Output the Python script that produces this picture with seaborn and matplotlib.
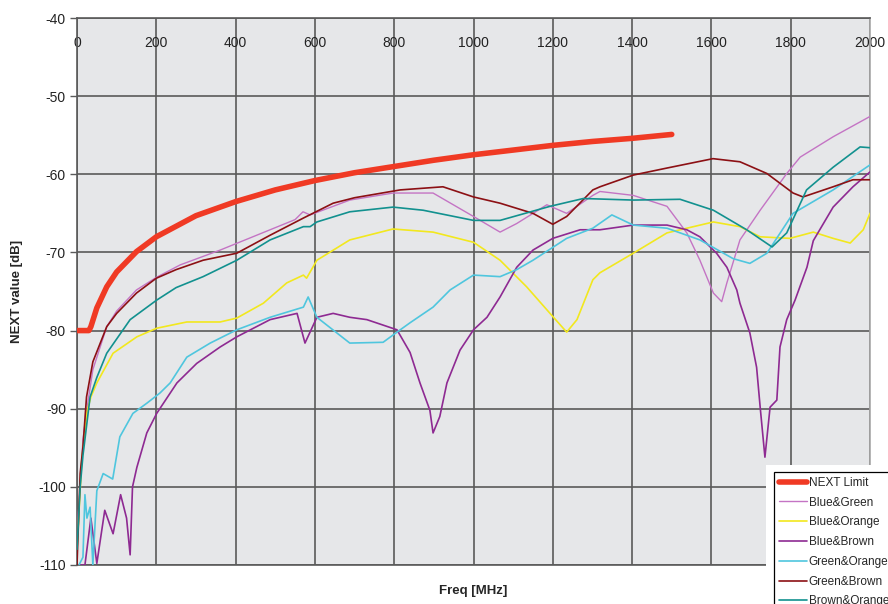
import matplotlib
matplotlib.use("Agg")
import matplotlib.pyplot as plt
import seaborn as sns
import pandas as pd
from matplotlib.patches import Rectangle

# ── Data ──────────────────────────────────────────────────────────────────────
limit_f  = [0, 30, 35, 50, 75, 100, 150, 200, 300, 400, 500, 600, 700, 800,
            900, 1000, 1100, 1200, 1300, 1400, 1500]
limit_db = [-80, -80, -79.5, -77.1, -74.4, -72.5, -69.9, -68.0, -65.3, -63.5,
            -62.0, -60.8, -59.8, -59.0, -58.2, -57.5, -56.9, -56.3, -55.8,
            -55.4, -54.9]

bgreen_f  = [0, 8, 15, 25, 40, 75, 100, 150, 200, 260, 361, 487, 550, 570, 588,
             688, 797, 865, 898, 1000, 1067, 1109, 1185, 1235, 1301, 1319, 1403,
             1488, 1538, 1571, 1605, 1626, 1639, 1672, 1723, 1790, 1824, 1907, 2000]
bgreen_db = [-106, -100, -94, -90, -85, -79.5, -77.5, -74.8, -73.2, -71.6, -69.7,
             -67.1, -65.8, -64.8, -65.2, -63.3, -62.4, -62.4, -62.4, -65.4, -67.4,
             -66.3, -63.9, -65.0, -62.7, -62.2, -62.7, -64.1, -67.5, -71.0, -75.2,
             -76.3, -73.9, -68.4, -64.6, -59.9, -57.8, -55.2, -52.6]

borange_f  = [0, 12, 25, 35, 50, 91, 151, 201, 277, 361, 403, 470, 529, 571, 579,
              605, 688, 797, 898, 1000, 1067, 1134, 1193, 1235, 1261, 1301, 1319,
              1403, 1488, 1605, 1672, 1723, 1798, 1857, 1907, 1950, 1983, 2000]
borange_db = [-108, -96.6, -90.4, -88.5, -86.7, -82.9, -80.8, -79.7, -78.9, -78.9,
              -78.4, -76.5, -73.9, -72.9, -73.3, -71.0, -68.4, -67.0, -67.4, -68.7,
              -71.0, -74.4, -77.8, -80.2, -78.6, -73.5, -72.6, -70.1, -67.5, -66.1,
              -66.7, -68.0, -68.2, -67.4, -68.2, -68.8, -67.1, -65.0]

bbrown_f  = [5, 20, 35, 50, 70, 91, 110, 125, 134, 140, 151, 176, 201, 235, 252,
             302, 361, 403, 487, 555, 575, 605, 646, 688, 731, 772, 807, 840, 865,
             890, 898, 915, 933, 966, 1000, 1034, 1067, 1109, 1150, 1200, 1269,
             1319, 1403, 1488, 1538, 1571, 1613, 1639, 1664, 1672, 1697, 1714,
             1723, 1735, 1748, 1765, 1773, 1790, 1811, 1841, 1857, 1907, 1957, 2000]
bbrown_db = [-110, -110, -104, -109.8, -103, -106, -101, -104, -108.7, -100, -97.5,
             -93.1, -90.6, -88.0, -86.7, -84.2, -82.1, -80.8, -78.6, -77.8, -81.6,
             -78.3, -77.8, -78.3, -78.6, -79.3, -79.9, -82.8, -86.7, -90.2, -93.1,
             -91.0, -86.7, -82.5, -79.9, -78.3, -75.7, -71.9, -69.7, -68.2, -67.1,
             -67.1, -66.5, -66.5, -67.1, -68.0, -70.1, -71.9, -74.8, -76.5, -80.3,
             -84.7, -89.8, -96.2, -89.8, -88.9, -82.1, -78.6, -76.1, -71.9, -68.5,
             -64.2, -61.6, -59.7]

gorange_f  = [5, 15, 20, 25, 33, 40, 50, 66, 90, 108, 141, 176, 209, 235, 277,
              336, 403, 487, 571, 583, 605, 688, 772, 807, 840, 898, 941, 1000,
              1067, 1109, 1150, 1235, 1301, 1349, 1403, 1488, 1571, 1655, 1697,
              1740, 1806, 1907, 2000]
gorange_db = [-110, -109, -101, -104, -102.6, -110, -100.5, -98.3, -99.0, -93.6,
              -90.6, -89.3, -88.0, -86.7, -83.4, -81.6, -79.9, -78.3, -77.0, -75.7,
              -78.3, -81.6, -81.5, -80.2, -79.0, -77.0, -74.8, -72.9, -73.1, -72.2,
              -71.0, -68.2, -66.9, -65.2, -66.5, -66.9, -68.4, -70.8, -71.4, -70.1,
              -65.0, -62.0, -58.8]

gbrown_f  = [0, 8, 15, 24, 40, 75, 100, 150, 200, 250, 318, 403, 487, 571, 646,
             700, 815, 923, 1000, 1067, 1150, 1200, 1235, 1301, 1319, 1403, 1488,
             1604, 1672, 1740, 1806, 1831, 1907, 1957, 2000]
gbrown_db = [-110, -98.3, -94.9, -88.5, -84.0, -79.5, -77.8, -75.2, -73.3, -72.2,
             -71.0, -70.1, -67.8, -65.6, -63.7, -63.0, -62.0, -61.6, -62.9, -63.7,
             -65.0, -66.4, -65.4, -62.0, -61.6, -60.1, -59.2, -58.0, -58.4, -59.9,
             -62.4, -62.9, -61.6, -60.7, -60.7]

brorange_f  = [0, 8, 15, 33, 50, 75, 134, 201, 250, 318, 403, 487, 571, 588, 605,
               688, 797, 873, 1000, 1067, 1193, 1277, 1403, 1521, 1605, 1689, 1753,
               1790, 1840, 1907, 1975, 2000]
brorange_db = [-108, -100, -96, -88.5, -86.0, -82.9, -78.6, -76.1, -74.5, -73.1,
               -71.0, -68.4, -66.7, -66.7, -66.1, -64.8, -64.2, -64.6, -65.9, -65.9,
               -64.1, -63.1, -63.3, -63.2, -64.6, -67.1, -69.3, -67.5, -62.0, -59.1,
               -56.5, -56.6]

series = [
    ("NEXT Limit",    limit_f,    limit_db,    "#F03A24", 4.0, 5),
    ("Blue&Green",    bgreen_f,   bgreen_db,   "#C474C4", 1.0, 3),
    ("Blue&Orange",   borange_f,  borange_db,  "#F2E81E", 1.2, 3),
    ("Blue&Brown",    bbrown_f,   bbrown_db,   "#8E2A92", 1.2, 3),
    ("Green&Orange",  gorange_f,  gorange_db,  "#4FC6DE", 1.2, 3),
    ("Green&Brown",   gbrown_f,   gbrown_db,   "#8C1014", 1.2, 3),
    ("Brown&Orange",  brorange_f, brorange_db, "#12918F", 1.2, 3),
]

# ── Style ─────────────────────────────────────────────────────────────────────
sns.set_theme(style="white")
plt.rcParams["font.family"] = ["Liberation Sans", "DejaVu Sans"]
plt.rcParams["axes.unicode_minus"] = False

fig = plt.figure(figsize=(8.88, 6.04), dpi=100)
fig.patch.set_facecolor("white")
ax = fig.add_axes([77 / 888, 1 - 565 / 604, (870 - 77) / 888, (565 - 18) / 604])
ax.set_facecolor("#E6E7E9")

handles = []
for name, f, db, color, lw, z in series:
    d = pd.DataFrame({"f": f, "db": db})
    sns.lineplot(data=d, x="f", y="db", color=color, linewidth=lw,
                 estimator=None, sort=False, ax=ax, zorder=z)
    handles.append(ax.lines[-1])

ax.set_xlim(0, 2000)
ax.set_ylim(-110, -40)
ax.set_xticks(range(0, 2001, 200))
ax.set_yticks(range(-110, -39, 10))
ax.grid(True, color="#5A5A5A", linewidth=1.2)
ax.set_axisbelow(True)

ax.xaxis.set_ticks_position("top")
ax.tick_params(axis="x", top=True, bottom=False, length=0, pad=-23,
               labelsize=10, labelcolor="#222222")
ax.tick_params(axis="y", left=True, length=5, width=1, color="#5A5A5A",
               pad=3, labelsize=10, labelcolor="#222222")

for side, sp in ax.spines.items():
    sp.set_color("#5A5A5A")
    sp.set_linewidth(1.2)
ax.spines["right"].set_color("#A8A8A8")

ax.set_xlabel("")
ax.set_ylabel("")
fig.text(473 / 888, 1 - 591 / 604, "Freq [MHz]", ha="center", va="center",
         fontsize=9.5, fontweight="bold")
fig.text(17 / 888, 1 - 291 / 604, "NEXT value [dB]", ha="center", va="center",
         rotation=90, fontsize=9.5, fontweight="bold")

# white area behind the legend (partly outside the figure)
fig.patches.append(Rectangle((766 / 888, 0), 1, 1 - 465 / 604,
                             transform=fig.transFigure, facecolor="white",
                             edgecolor="none", zorder=10))

leg = fig.legend(handles, [s[0] for s in series], loc="upper left",
                 bbox_to_anchor=(774 / 888, 1 - 472 / 604),
                 bbox_transform=fig.transFigure, fontsize=8.5, frameon=True,
                 fancybox=False, shadow=False, borderpad=0.4,
                 labelspacing=0.66, handlelength=2.4, handletextpad=0.15,
                 borderaxespad=0)
leg.get_frame().set_edgecolor("black")
leg.get_frame().set_linewidth(0.9)
leg.get_frame().set_facecolor("white")
leg.get_frame().set_alpha(1)
leg.set_zorder(20)

fig.savefig("out.png", dpi=100)
